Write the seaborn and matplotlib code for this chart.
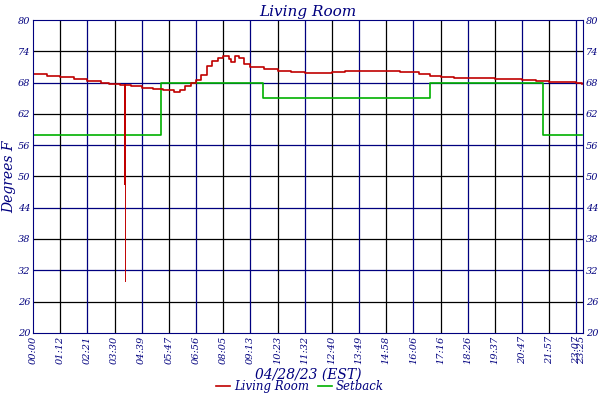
import matplotlib
matplotlib.use("Agg")
import matplotlib.pyplot as plt
import pandas as pd
import seaborn as sns

# x positions are in tick units (one tick = one labelled time)
tick_labels = ["00:00", "01:12", "02:21", "03:30", "04:39", "05:47", "06:56", "08:05",
               "09:13", "10:23", "11:32", "12:40", "13:49", "14:58", "16:06", "17:16",
               "18:26", "19:37", "20:47", "21:57", "23:07", "23:25"]
tick_pos = list(range(21)) + [20.2]

room_x = [0, 0.5, 1.0, 1.5, 2.0, 2.5, 2.8, 3.2, 3.38, 3.39, 3.40, 3.6, 4.0, 4.4, 4.8,
          5.0, 5.2, 5.4, 5.6, 5.8, 6.0, 6.2, 6.4, 6.6, 6.8, 7.0, 7.2, 7.3, 7.45, 7.6, 7.75,
          8.0, 8.5, 9.0, 9.5, 10.0, 10.5, 11.0, 11.5, 12.0, 12.5, 13.0, 13.5, 13.8, 14.2,
          14.6, 15.0, 15.5, 16.0, 16.5, 17.0, 17.5, 18.0, 18.5, 19.0, 19.5, 20.0, 20.2]
room_y = [69.6, 69.3, 69.0, 68.7, 68.3, 68.0, 67.8, 67.6, 67.5, 48.5, 67.5, 67.3, 67.0, 66.8, 66.6,
          66.5, 66.1, 66.6, 67.4, 68.0, 68.5, 69.5, 71.2, 72.2, 72.7, 73.0, 72.6, 72.0, 73.0, 72.8, 71.5,
          71.0, 70.6, 70.3, 70.1, 69.9, 69.8, 70.0, 70.2, 70.3, 70.3, 70.2, 70.1, 70.0, 69.6,
          69.2, 69.0, 68.9, 68.9, 68.8, 68.7, 68.6, 68.4, 68.3, 68.2, 68.1, 67.9, 67.7]
# brief thin drop below the thick spike
spike_x = [3.39, 3.39]
spike_y = [48.5, 30.0]

setback_x = [0, 4.66, 4.70, 8.48, 14.55, 14.6, 18.72, 18.76, 20.2]
setback_y = [58, 58, 68, 65, 65, 68, 68, 58, 58]

navy = "#00007f"
font = {"family": "DejaVu Serif", "style": "italic", "color": navy}

room = pd.DataFrame({"x": room_x, "y": room_y})
setback = pd.DataFrame({"x": setback_x, "y": setback_y})
spike = pd.DataFrame({"x": spike_x, "y": spike_y})

fig, ax = plt.subplots(figsize=(6, 4), dpi=100)
fig.subplots_adjust(left=0.055, right=0.972, top=0.95, bottom=0.168)

# grid: alternating black / navy lines
for i, v in enumerate(range(26, 80, 6)):
    ax.axhline(v, color="black" if i % 2 == 0 else navy, lw=0.9, zorder=0)
for i, p in enumerate(tick_pos[1:-1]):
    ax.axvline(p, color="black" if i % 2 == 0 else navy, lw=0.9, zorder=0)

sns.lineplot(data=setback, x="x", y="y", ax=ax, color="#00b000", lw=1.2,
             drawstyle="steps-post", label="Setback", estimator=None, sort=False)
sns.lineplot(data=room, x="x", y="y", ax=ax, color="#c00000", lw=1.2,
             drawstyle="steps-post", label="Living Room", estimator=None, sort=False)
sns.lineplot(data=spike, x="x", y="y", ax=ax, color="#c00000", lw=0.7,
             estimator=None, sort=False, legend=False)

ax.set_xlim(0, 20.25)
ax.set_ylim(20, 80)
ax.set_yticks(range(20, 81, 6))
ax.set_xticks(tick_pos)
ax.set_xticklabels(tick_labels, rotation=90, fontsize=7, fontstyle="italic",
                   family="DejaVu Serif", color=navy)
ax.tick_params(axis="y", labelsize=7, colors=navy, length=0, labelright=True, pad=2)
ax.tick_params(axis="x", length=0, colors=navy, pad=2)
for t in ax.get_yticklabels():
    t.set_fontstyle("italic")
    t.set_family("DejaVu Serif")
for s in ax.spines.values():
    s.set_color(navy)

ax.set_title("Living Room", fontsize=11, pad=3, **font)
ax.set_xlabel("04/28/23 (EST)", fontsize=10, labelpad=3, **font)
ax.set_ylabel("Degrees F", fontsize=10, labelpad=1, **font)

h, l = ax.get_legend_handles_labels()
ax.get_legend().remove()
leg = fig.legend(h[::-1], l[::-1], loc="lower center", bbox_to_anchor=(0.5, -0.01), ncol=2,
                 frameon=False, handlelength=1.2, columnspacing=0.8, handletextpad=0.3,
                 prop={"family": "DejaVu Serif", "style": "italic", "size": 8.5})
for t in leg.get_texts():
    t.set_color(navy)

fig.savefig("out.png", dpi=100)
